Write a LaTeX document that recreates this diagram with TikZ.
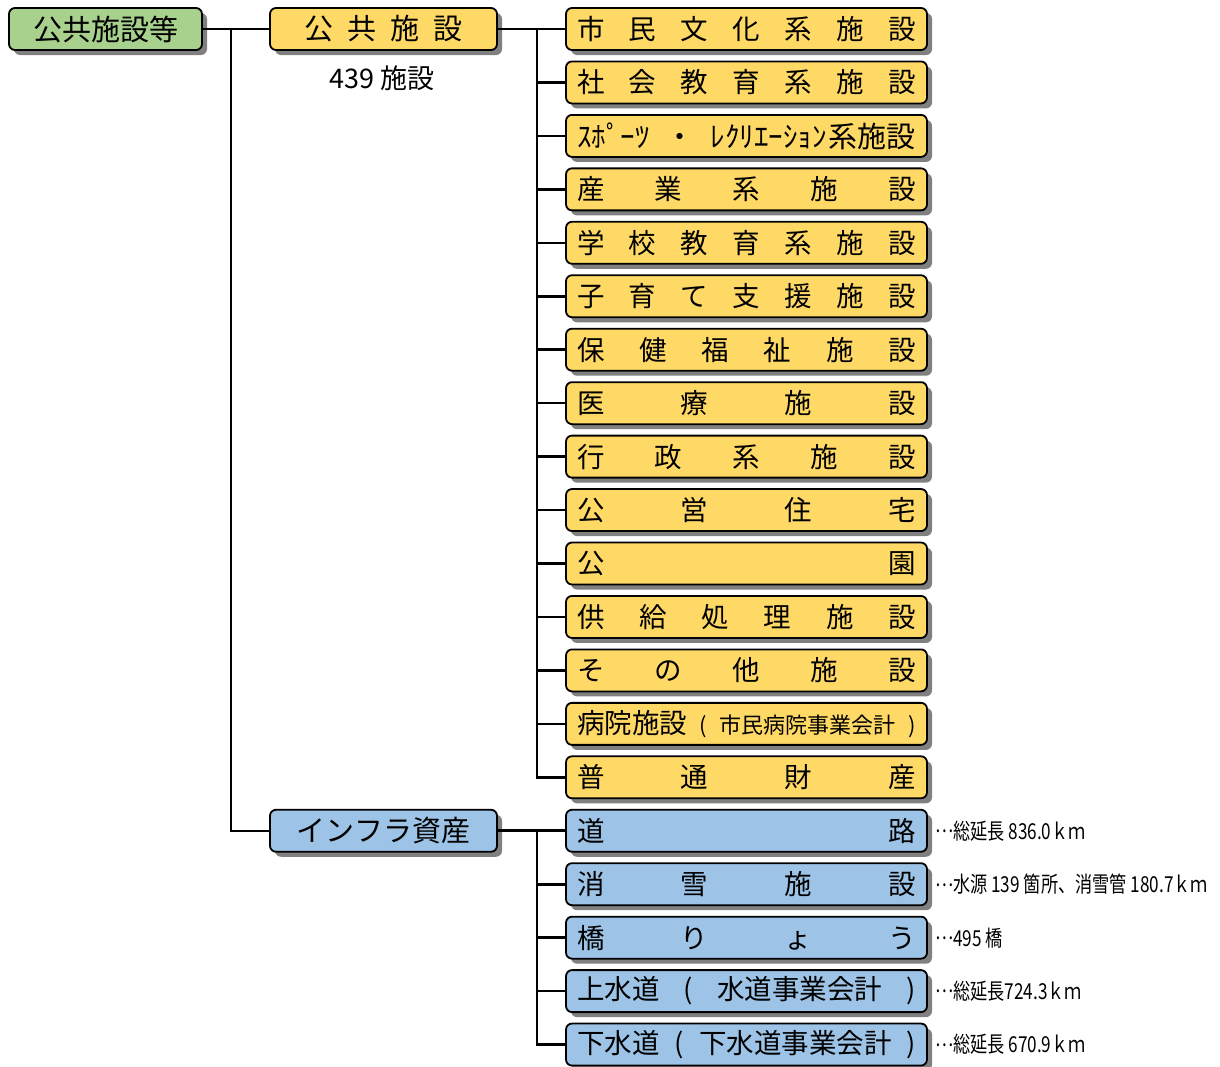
\documentclass[tikz,border=0pt]{standalone}
\usepackage{fontspec}
\setmainfont{Noto Sans CJK JP}
\newfontfamily\notefont[FakeStretch=0.78]{Noto Sans CJK JP}
\usetikzlibrary{shadows}

\definecolor{rootgreen}{HTML}{A9D18E}
\definecolor{pubyellow}{HTML}{FFD966}
\definecolor{infrablue}{HTML}{9DC3E6}
\newcommand{\spreadtxt}[2]{\makebox[#1]{#2}}
\newcommand{\leader}{\raisebox{0.3em}{…}}

\begin{document}
\begin{tikzpicture}[x=1pt, y=-1pt,
	box/.style={draw, line width=1.8pt, rounded corners=6pt, inner sep=0pt,
		minimum height=42pt, font=\fontsize{27.5}{27.5}\selectfont,
		drop shadow={shadow xshift=5pt, shadow yshift=-5pt, fill=black!50, opacity=1}},
	rootbox/.style={box, fill=rootgreen, minimum width=193pt, font=\fontsize{29}{29}\selectfont},
	groupbox/.style={box, minimum width=227pt, font=\fontsize{29}{29}\selectfont},
	itembox/.style={box, minimum width=361pt},
	note/.style={anchor=west, inner sep=0pt, font=\notefont\fontsize{22}{22}\selectfont},
	link/.style={line width=2pt},
	branch/.style={line width=2.6pt}]
	\useasboundingbox (0,0) rectangle (1220,1066);
	\def \dy {53.45}
	\def \xc {746.5}
	\def \w {339pt}

	\node[rootbox] (all) at (105.5,29) {公共施設等};
	\node[groupbox, fill=pubyellow] (pub) at (383.5,29)
		{\spreadtxt{158pt}{公\hfill 共\hfill 施\hfill 設}};
	\node[inner sep=0pt, font=\fontsize{27}{27}\selectfont] (pubcount) at (382,78)
		{439 施設};
	\node[groupbox, fill=infrablue] (infra) at (383.5,29+15*\dy) {インフラ資産};

	% public facilities
	\node[itembox, fill=pubyellow] (shimin)   at (\xc,29)
		{\spreadtxt{\w}{市\hfill 民\hfill 文\hfill 化\hfill 系\hfill 施\hfill 設}};
	\node[itembox, fill=pubyellow] (shakai)   at (\xc,29+1*\dy)
		{\spreadtxt{\w}{社\hfill 会\hfill 教\hfill 育\hfill 系\hfill 施\hfill 設}};
	\node[itembox, fill=pubyellow, font=\fontsize{29}{29}\selectfont] (sports) at (\xc,29+2*\dy)
		{\spreadtxt{\w}{ｽﾎﾟｰﾂ\hfill ・\hfill ﾚｸﾘｴｰｼｮﾝ\hspace{2pt}系施設}};
	\node[itembox, fill=pubyellow] (sangyo)   at (\xc,29+3*\dy)
		{\spreadtxt{\w}{産\hfill 業\hfill 系\hfill 施\hfill 設}};
	\node[itembox, fill=pubyellow] (gakko)    at (\xc,29+4*\dy)
		{\spreadtxt{\w}{学\hfill 校\hfill 教\hfill 育\hfill 系\hfill 施\hfill 設}};
	\node[itembox, fill=pubyellow] (kosodate) at (\xc,29+5*\dy)
		{\spreadtxt{\w}{子\hfill 育\hfill て\hfill 支\hfill 援\hfill 施\hfill 設}};
	\node[itembox, fill=pubyellow] (hoken)    at (\xc,29+6*\dy)
		{\spreadtxt{\w}{保\hfill 健\hfill 福\hfill 祉\hfill 施\hfill 設}};
	\node[itembox, fill=pubyellow] (iryo)     at (\xc,29+7*\dy)
		{\spreadtxt{\w}{医\hfill 療\hfill 施\hfill 設}};
	\node[itembox, fill=pubyellow] (gyosei)   at (\xc,29+8*\dy)
		{\spreadtxt{\w}{行\hfill 政\hfill 系\hfill 施\hfill 設}};
	\node[itembox, fill=pubyellow] (koei)     at (\xc,29+9*\dy)
		{\spreadtxt{\w}{公\hfill 営\hfill 住\hfill 宅}};
	\node[itembox, fill=pubyellow] (koen)     at (\xc,29+10*\dy)
		{\spreadtxt{\w}{公\hfill 園}};
	\node[itembox, fill=pubyellow] (kyokyu)   at (\xc,29+11*\dy)
		{\spreadtxt{\w}{供\hfill 給\hfill 処\hfill 理\hfill 施\hfill 設}};
	\node[itembox, fill=pubyellow] (sonota)   at (\xc,29+12*\dy)
		{\spreadtxt{\w}{そ\hfill の\hfill 他\hfill 施\hfill 設}};
	\node[itembox, fill=pubyellow] (byoin)    at (\xc,29+13*\dy)
		{\spreadtxt{\w}{病院施設\hfill{\fontsize{22}{22}\selectfont (\hfill 市民病院事業会計\hfill )}}};
	\node[itembox, fill=pubyellow] (futsu)    at (\xc,29+14*\dy)
		{\spreadtxt{\w}{普\hfill 通\hfill 財\hfill 産}};

	% infrastructure
	\node[itembox, fill=infrablue] (doro)     at (\xc,29+15*\dy)
		{\spreadtxt{\w}{道\hfill 路}};
	\node[itembox, fill=infrablue] (shosetsu) at (\xc,29+16*\dy)
		{\spreadtxt{\w}{消\hfill 雪\hfill 施\hfill 設}};
	\node[itembox, fill=infrablue] (kyoryo)   at (\xc,29+17*\dy)
		{\spreadtxt{\w}{橋\hfill り\hfill ょ\hfill う}};
	\node[itembox, fill=infrablue] (josui)    at (\xc,29+18*\dy)
		{\spreadtxt{\w}{上水道\hfill (\hfill 水道事業会計\hfill )}};
	\node[itembox, fill=infrablue] (gesui)    at (\xc,29+19*\dy)
		{\spreadtxt{\w}{下水道\hfill (\hfill 下水道事業会計\hfill )}};

	\node[note] (dorolen)     at ([xshift=7pt]doro.east)     {\leader 総延長 836.0ｋｍ};
	\node[note] (shosetsulen) at ([xshift=7pt]shosetsu.east) {\leader 水源 139 箇所、消雪管 180.7ｋｍ};
	\node[note] (kyoryonum)   at ([xshift=7pt]kyoryo.east)   {\leader 495 橋};
	\node[note] (josuilen)    at ([xshift=7pt]josui.east)    {\leader 総延長724.3ｋｍ};
	\node[note] (gesuilen)    at ([xshift=7pt]gesui.east)    {\leader 総延長 670.9ｋｍ};

	% connectors
	\coordinate (jleft)  at (231,29);
	\coordinate (jpub)   at (537,29);
	\coordinate (jinfra) at (537,29+15*\dy);

	\draw[link] (all.east) -- (pub.west);
	\draw[link] (jleft) |- (infra.west);

	\draw[branch] (pub.east) -- (shimin.west);
	\draw[branch] (jpub) |- (futsu.west);
	\foreach \leaf in {shakai, sports, sangyo, gakko, kosodate, hoken, iryo,
		gyosei, koei, koen, kyokyu, sonota, byoin}
		\draw[branch] (\leaf.west) -- (\leaf.west -| jpub);

	\draw[branch] (infra.east) -- (doro.west);
	\draw[branch] (jinfra) |- (gesui.west);
	\foreach \leaf in {shosetsu, kyoryo, josui}
		\draw[branch] (\leaf.west) -- (\leaf.west -| jinfra);
\end{tikzpicture}
\end{document}
